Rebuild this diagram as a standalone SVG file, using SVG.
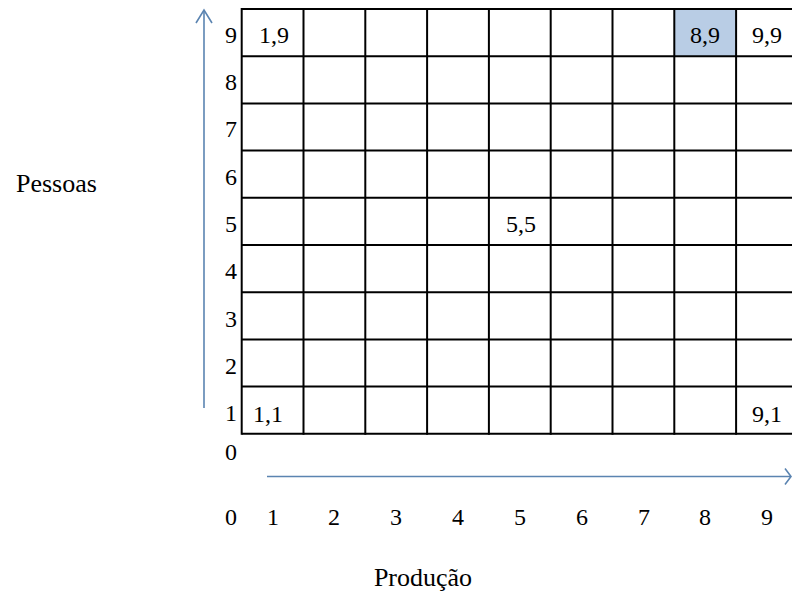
<svg xmlns="http://www.w3.org/2000/svg" width="792" height="599" viewBox="0 0 792 599">
<style>
text{font-family:"Liberation Serif","Times New Roman",serif;fill:#000;}
.t{font-size:24px;}
.lbl{font-size:24px;text-anchor:end;}
.ax{font-size:24px;text-anchor:middle;}
.title{font-size:26px;}
.grid line{stroke:#000;stroke-width:2;}
.arrow{stroke:#5b84b1;stroke-width:1.6;fill:none;}
</style>
<rect width="792" height="599" fill="#fff"/>
<g id="shaded-cell"><rect x="674.2" y="9" width="61.8" height="47.2" fill="#b9cde5"/></g>
<g class="grid" id="grid">
<line x1="241.7" y1="9" x2="800" y2="9"/>
<line x1="241.7" y1="56.2" x2="800" y2="56.2"/>
<line x1="241.7" y1="103.4" x2="800" y2="103.4"/>
<line x1="241.7" y1="150.6" x2="800" y2="150.6"/>
<line x1="241.7" y1="197.8" x2="800" y2="197.8"/>
<line x1="241.7" y1="245" x2="800" y2="245"/>
<line x1="241.7" y1="292.2" x2="800" y2="292.2"/>
<line x1="241.7" y1="339.4" x2="800" y2="339.4"/>
<line x1="241.7" y1="386.6" x2="800" y2="386.6"/>
<line x1="241.7" y1="433.8" x2="800" y2="433.8"/>
<line x1="241.7" y1="8" x2="241.7" y2="434.8"/>
<line x1="303.5" y1="8" x2="303.5" y2="434.8"/>
<line x1="365.3" y1="8" x2="365.3" y2="434.8"/>
<line x1="427.1" y1="8" x2="427.1" y2="434.8"/>
<line x1="488.9" y1="8" x2="488.9" y2="434.8"/>
<line x1="550.7" y1="8" x2="550.7" y2="434.8"/>
<line x1="612.5" y1="8" x2="612.5" y2="434.8"/>
<line x1="674.3" y1="8" x2="674.3" y2="434.8"/>
<line x1="736.1" y1="8" x2="736.1" y2="434.8"/>
</g>
<g id="cell-1-9"><text class="t" x="259" y="43">1,9</text></g>
<g id="cell-8-9"><text class="t" x="690" y="43">8,9</text></g>
<g id="cell-9-9"><text class="t" x="752" y="43">9,9</text></g>
<g id="cell-5-5"><text class="t" x="506" y="232">5,5</text></g>
<g id="cell-1-1"><text class="t" x="253" y="422">1,1</text></g>
<g id="cell-9-1"><text class="t" x="752" y="422">9,1</text></g>
<g id="row-labels">
<text class="lbl" x="237" y="43">9</text>
<text class="lbl" x="237" y="90">8</text>
<text class="lbl" x="237" y="137">7</text>
<text class="lbl" x="237" y="185">6</text>
<text class="lbl" x="237" y="232">5</text>
<text class="lbl" x="237" y="279">4</text>
<text class="lbl" x="237" y="327">3</text>
<text class="lbl" x="237" y="374">2</text>
<text class="lbl" x="237" y="421">1</text>
<text class="lbl" x="237" y="460">0</text>
</g>
<g id="col-labels">
<text class="ax" x="231" y="525">0</text>
<text class="ax" x="273" y="525">1</text>
<text class="ax" x="334" y="525">2</text>
<text class="ax" x="396" y="525">3</text>
<text class="ax" x="458" y="525">4</text>
<text class="ax" x="520" y="525">5</text>
<text class="ax" x="582" y="525">6</text>
<text class="ax" x="644" y="525">7</text>
<text class="ax" x="705" y="525">8</text>
<text class="ax" x="767" y="525">9</text>
</g>
<g id="connectors">
<line class="arrow" x1="204" y1="408" x2="204" y2="10"/>
<polyline class="arrow" points="196,23 204,10 212,23"/>
<line class="arrow" x1="267" y1="476.5" x2="791" y2="476.5"/>
<polyline class="arrow" points="785,468.5 791,476.5 785,484.5"/>
</g>
<g id="axis-pessoas"><text class="title" x="16" y="192">Pessoas</text></g>
<g id="axis-producao"><text class="title" x="423" y="586" text-anchor="middle">Produção</text></g>
</svg>
